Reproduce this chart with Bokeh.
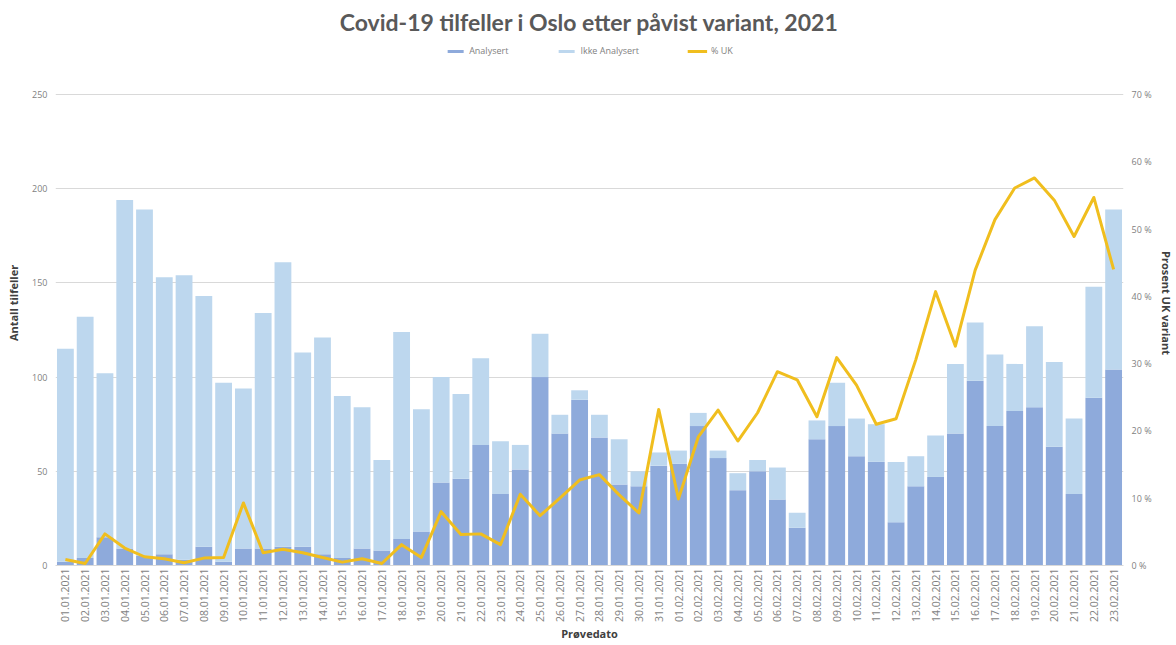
from bokeh.plotting import figure
from bokeh.models import (ColumnDataSource, Range1d, LinearAxis, FixedTicker,
                          Legend, LegendItem, FactorRange)
from bokeh.embed import file_html
from bokeh.resources import INLINE
import math

dates = ["01.01.2021", "02.01.2021", "03.01.2021", "04.01.2021", "05.01.2021", "06.01.2021",
         "07.01.2021", "08.01.2021", "09.01.2021", "10.01.2021", "11.01.2021", "12.01.2021",
         "13.01.2021", "14.01.2021", "15.01.2021", "16.01.2021", "17.01.2021", "18.01.2021",
         "19.01.2021", "20.01.2021", "21.01.2021", "22.01.2021", "23.01.2021", "24.01.2021",
         "25.01.2021", "26.01.2021", "27.01.2021", "28.01.2021", "29.01.2021", "30.01.2021",
         "31.01.2021", "01.02.2021", "02.02.2021", "03.02.2021", "04.02.2021", "05.02.2021",
         "06.02.2021", "07.02.2021", "08.02.2021", "09.02.2021", "10.02.2021", "11.02.2021",
         "12.02.2021", "13.02.2021", "14.02.2021", "15.02.2021", "16.02.2021", "17.02.2021",
         "18.02.2021", "19.02.2021", "20.02.2021", "21.02.2021", "22.02.2021", "23.02.2021"]

analysert = [2, 4, 15, 9, 5, 6, 3, 10, 2, 9,
             9, 10, 10, 6, 4, 9, 8, 14, 18, 44,
             46, 64, 38, 51, 100, 70, 88, 68, 43, 42,
             53, 54, 74, 57, 40, 50, 35, 20, 67, 74,
             58, 55, 23, 42, 47, 70, 98, 74, 82, 84,
             63, 38, 89, 104]

ikke_analysert = [113, 128, 87, 185, 184, 147, 151, 133, 95, 85,
                  125, 151, 103, 115, 86, 75, 48, 110, 65, 56,
                  45, 46, 28, 13, 23, 10, 5, 12, 24, 8,
                  7, 7, 7, 4, 9, 6, 17, 8, 10, 23,
                  20, 20, 32, 16, 22, 37, 31, 38, 25, 43,
                  45, 40, 59, 85]

pct_uk = [0.9, 0.3, 4.7, 2.6, 1.3, 1.0, 0.4, 1.1, 1.2, 9.3,
          1.9, 2.4, 1.9, 1.2, 0.5, 1.0, 0.3, 3.1, 1.2, 8.0,
          4.6, 4.7, 3.1, 10.6, 7.4, 10.0, 12.7, 13.5, 10.5, 7.8,
          23.2, 9.9, 19.1, 23.1, 18.5, 22.7, 28.8, 27.6, 22.1, 30.9,
          26.8, 21.0, 21.8, 30.6, 40.7, 32.6, 43.9, 51.4, 56.1, 57.6,
          54.3, 48.9, 54.7, 44.0]

left_ticks = [0, 50, 100, 150, 200, 250]
right_ticks = [0, 10, 20, 30, 40, 50, 60, 70]
right_labels = {t: f"{t} %" for t in right_ticks}

title_text = "Covid-19 tilfeller i Oslo etter påvist variant, 2021"
series_names = ["Analysert", "Ikke Analysert", "% UK"]

C_DARK = "#8eaadb"
C_LIGHT = "#bdd7ee"
C_LINE = "#f0be1e"
GRAY = "#7f7f7f"
FONT = "Open Sans"

src = ColumnDataSource(dict(date=dates, analysert=analysert,
                            ikke=ikke_analysert, pct=pct_uk))

# frame top at 40px (legend lives inside); left 250 at 94px, bottom 565px
y_top = 250 * (565 - 40) / (565 - 94)
r_top = 70 * (565 - 40) / (565 - 94)

p = figure(width=1176, height=645, x_range=FactorRange(*dates, range_padding=0),
           y_range=Range1d(0, y_top), output_backend="svg", toolbar_location=None,
           min_border_left=55, min_border_right=52, min_border_bottom=80,
           min_border_top=40, title=title_text)
p.extra_y_ranges = {"pct": Range1d(0, r_top)}
p.outline_line_color = None
p.background_fill_color = "white"
p.border_fill_color = "white"

p.title.align = "center"
p.title.text_font = "Lato"
p.title.text_font_size = "23px"
p.title.text_font_style = "bold"
p.title.text_color = "#595959"
p.title.offset = 0

r_stack = p.vbar_stack(["analysert", "ikke"], x="date", width=0.85, source=src,
                       color=[C_DARK, C_LIGHT], line_color=None)
r_line = p.line(x="date", y="pct", source=src, line_color=C_LINE, line_width=3,
                y_range_name="pct", line_join="round")

# axes
p.xgrid.grid_line_color = None
p.ygrid.grid_line_color = "#d9d9d9"
p.ygrid.grid_line_width = 1
p.yaxis.ticker = FixedTicker(ticks=left_ticks)
p.yaxis.axis_line_color = None
p.yaxis.major_tick_line_color = None
p.yaxis.minor_tick_line_color = None
p.yaxis.major_tick_out = 0
p.yaxis.major_label_text_font = FONT
p.yaxis.major_label_text_font_size = "9px"
p.yaxis.major_label_text_color = GRAY
p.yaxis.axis_label = "Antall tilfeller"
p.yaxis.axis_label_text_font = FONT
p.yaxis.axis_label_text_font_size = "11px"
p.yaxis.axis_label_text_font_style = "bold"
p.yaxis.axis_label_text_color = "#404040"
p.yaxis.major_label_standoff = 8
p.yaxis.axis_label_standoff = 8

raxis = LinearAxis(y_range_name="pct", ticker=FixedTicker(ticks=right_ticks),
                   major_label_overrides=right_labels)
raxis.axis_line_color = None
raxis.major_tick_line_color = None
raxis.minor_tick_line_color = None
raxis.major_tick_out = 0
raxis.major_label_text_font = FONT
raxis.major_label_text_font_size = "9px"
raxis.major_label_text_color = GRAY
raxis.axis_label = "Prosent UK variant"
raxis.axis_label_text_font = FONT
raxis.axis_label_text_font_size = "11px"
raxis.axis_label_text_font_style = "bold"
raxis.axis_label_text_color = "#404040"
raxis.major_label_standoff = 8
raxis.axis_label_standoff = 4
p.add_layout(raxis, "right")

p.xaxis.major_label_orientation = math.pi / 2
p.xaxis.axis_line_color = "#d9d9d9"
p.xaxis.major_tick_line_color = None
p.xaxis.minor_tick_line_color = None
p.xaxis.major_tick_out = 0
p.xaxis.major_label_text_font = FONT
p.xaxis.major_label_text_font_size = "10.5px"
p.xaxis.major_label_text_color = GRAY
p.xaxis.major_label_standoff = 3
p.xaxis.axis_label = "Prøvedato"
p.xaxis.axis_label_text_font = FONT
p.xaxis.axis_label_text_font_size = "11px"
p.xaxis.axis_label_text_font_style = "bold"
p.xaxis.axis_label_text_color = "#404040"
p.xaxis.axis_label_standoff = 1

legend = Legend(items=[LegendItem(label=series_names[0], renderers=[r_stack[0]]),
                       LegendItem(label=series_names[1], renderers=[r_stack[1]]),
                       LegendItem(label=series_names[2], renderers=[r_line])],
                location="top_center", orientation="horizontal",
                label_text_font=FONT, label_text_font_size="9px",
                label_text_color=GRAY, glyph_width=20, glyph_height=4,
                label_height=10, label_standoff=4, spacing=48, padding=0, margin=4,
                border_line_color=None, background_fill_alpha=0)
p.add_layout(legend, "center")

open("out.html", "w").write(file_html(p, INLINE))
